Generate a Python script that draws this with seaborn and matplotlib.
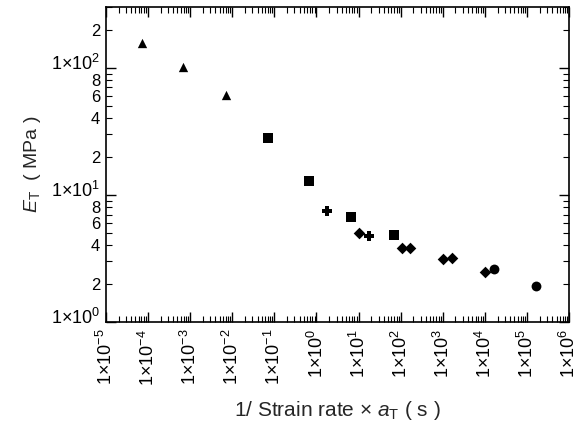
import matplotlib
matplotlib.use("Agg")
import matplotlib.pyplot as plt
import matplotlib.ticker as mticker
import matplotlib.transforms as mtransforms
import numpy as np
import pandas as pd
import seaborn as sns

# data (x = 1/strain rate * aT in s, y = E_T in MPa)
tri_x = [7.2e-5, 6.8e-4, 7.0e-3]
tri_y = [157, 102, 61]
sq_x = [0.07, 0.66, 6.6, 69]
sq_y = [28, 12.9, 6.7, 4.84]
plus_x = [1.78, 17.7]
plus_y = [7.5, 4.75]
dia_x = [10.2, 107, 166, 1010, 1660, 1.0e4]
dia_y = [5.0, 3.83, 3.83, 3.13, 3.19, 2.48]
circ_x = [1.64e4, 1.62e5]
circ_y = [2.61, 1.92]

groups = ["tri", "sq", "plus", "dia", "circ"]
xs = [tri_x, sq_x, plus_x, dia_x, circ_x]
ys = [tri_y, sq_y, plus_y, dia_y, circ_y]
df = pd.concat([pd.DataFrame({"x": x, "y": y, "g": g}) for g, x, y in zip(groups, xs, ys)])

sns.set_style("ticks")
plt.rcParams["font.family"] = ["Liberation Sans", "DejaVu Sans"]
plt.rcParams["mathtext.fontset"] = "custom"
plt.rcParams["mathtext.rm"] = "Liberation Sans"
plt.rcParams["mathtext.it"] = "Liberation Sans:italic"

fig = plt.figure(figsize=(5.88, 4.23), dpi=100)
ax = fig.add_axes([0.180, 0.239, 0.788, 0.744])

markers = {"tri": "^", "sq": "s", "plus": "P", "dia": "D", "circ": "o"}
sizes = {"tri": 45, "sq": 55, "plus": 60, "dia": 35, "circ": 50}
for g in groups:
    sub = df[df.g == g]
    sns.scatterplot(data=sub, x="x", y="y", marker=markers[g], s=sizes[g],
                    color="black", edgecolor="black", linewidth=0, ax=ax, legend=False)

ax.set_xscale("log")
ax.set_yscale("log")
ax.set_xlim(1e-5, 1e6)
ax.set_ylim(1, 300)

ax.xaxis.set_major_locator(mticker.LogLocator(base=10, numticks=20))
ax.xaxis.set_minor_locator(mticker.LogLocator(base=10, subs=np.arange(2, 10), numticks=20))
ax.xaxis.set_major_formatter(mticker.FuncFormatter(
    lambda v, p: r"1$\times$10$^{%d}$" % round(np.log10(v))))
ax.xaxis.set_minor_formatter(mticker.NullFormatter())

ax.yaxis.set_major_locator(mticker.LogLocator(base=10, numticks=10))
ax.yaxis.set_minor_locator(mticker.LogLocator(base=10, subs=np.arange(2, 10), numticks=10))
ax.yaxis.set_major_formatter(mticker.FuncFormatter(
    lambda v, p: r"1$\times$10$^{%d}$" % round(np.log10(v))))


def minor_lab(v, p):
    m = int(round(v / 10 ** np.floor(np.log10(v) + 1e-9)))
    return str(m) if m in (2, 4, 6, 8) else ""


ax.yaxis.set_minor_formatter(mticker.FuncFormatter(minor_lab))

ax.tick_params(which="both", direction="in", top=True, right=True, colors="black")
ax.tick_params(which="major", length=7, width=1, labelsize=13)
ax.tick_params(which="minor", length=4, width=0.8, labelsize=12)
ax.tick_params(axis="x", which="major", labelrotation=90, pad=5)
ax.tick_params(axis="y", which="both", pad=4)
for sp in ax.spines.values():
    sp.set_linewidth(1.2)
    sp.set_color("black")

ax.set_xlabel(r"1/ Strain rate $\times$ $a_{\mathrm{T}}$ ( s )", fontsize=15, labelpad=10)
ax.set_ylabel(r"$E_{\mathrm{T}}$  ( MPa )", fontsize=14, labelpad=6)

# make sure every tick exists, then nudge major y labels up so the "8" below stays readable
fig.canvas.draw()
shift = mtransforms.ScaledTranslation(0, 4.5 / 72, fig.dpi_scale_trans)
for tick in ax.yaxis.get_major_ticks():
    tick.label1.set_transform(ax.get_yaxis_text1_transform(tick._pad)[0] + shift)

fig.savefig("out.png", dpi=100)
